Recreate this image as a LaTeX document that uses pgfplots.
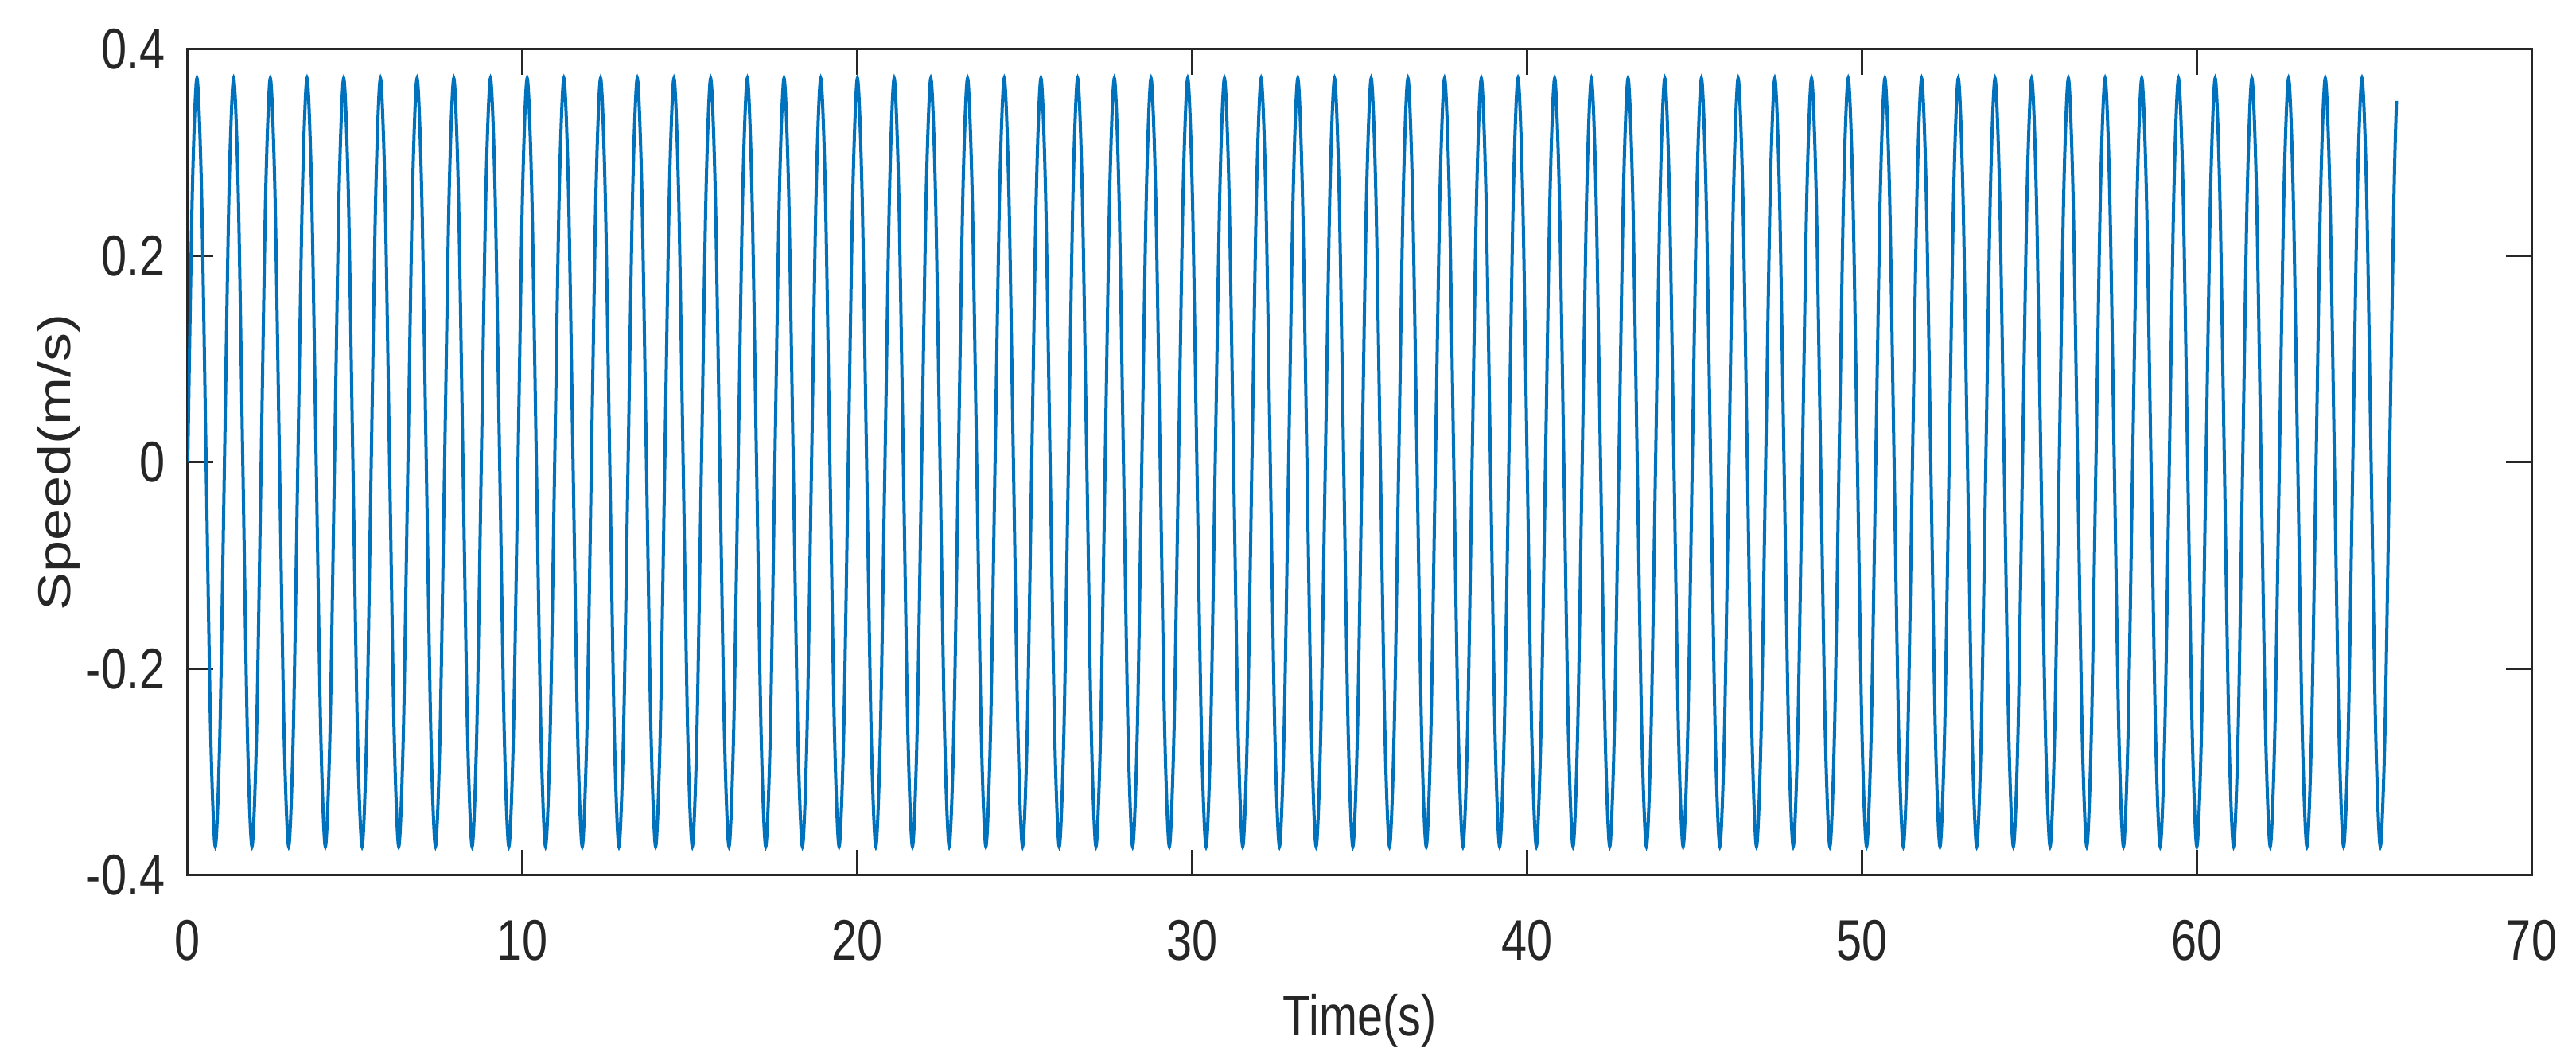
\documentclass[border=0pt]{standalone}
\usepackage{fontspec}
\setmainfont{Liberation Sans}
\usepackage{graphicx}
\usepackage{pgfplots}
\pgfplotsset{compat=1.18}
\definecolor{mblue}{HTML}{0072BD}
\definecolor{mgray}{HTML}{262626}
\newcommand\sx[1]{\scalebox{0.8}[1]{#1}}
\begin{document}
\begin{tikzpicture}
\path[use as bounding box] (-59pt,-56.75pt) rectangle (750.5pt,275pt);
\begin{axis}[
  at={(0pt,0pt)}, anchor=south west,
  scale only axis, width=736.5pt, height=259.5pt,
  xmin=0, xmax=70, ymin=-0.4, ymax=0.4,
  xtick={0,10,20,30,40,50,60,70},
  xticklabels={\sx{0},\sx{10},\sx{20},\sx{30},\sx{40},\sx{50},\sx{60},\sx{70}},
  ytick={-0.4,-0.2,0,0.2,0.4},
  yticklabels={\sx{-0.4},\sx{-0.2},\sx{0},\sx{0.2},\sx{0.4}},
  axis line style={mgray, line width=0.75pt},
  tick style={mgray, line width=0.75pt},
  major tick length=8pt,
  tick align=inside,
  ticklabel style={font=\fontsize{18}{20}\selectfont, text=mgray},
  xticklabel style={anchor=north, inner sep=0pt, yshift=-13.75pt},
  yticklabel style={anchor=east, inner sep=0pt, xshift=-7pt},
  xlabel={\sx{Time(s)}},
  ylabel={\scalebox{1}[0.8]{Speed(m/s)}},
  label style={font=\fontsize{18}{20}\selectfont, text=mgray},
  xlabel style={at={(axis description cs:0.5,-0.1946)}, anchor=base, inner sep=0pt},
  ylabel style={at={(axis description cs:-0.0502,0.5)}, anchor=base, inner sep=0pt},
]
\addplot[mblue, line width=1pt, smooth, no markers] coordinates {
(0,0)(0.137,0.263)(0.274,0.372)(0.411,0.263)(0.548,0)(0.685,-0.263)(0.822,-0.372)(0.959,-0.263)
(1.096,0)(1.233,0.263)(1.370,0.372)(1.507,0.263)(1.644,0)(1.781,-0.263)(1.918,-0.372)(2.055,-0.263)
(2.192,0)(2.329,0.263)(2.466,0.372)(2.603,0.263)(2.740,0)(2.877,-0.263)(3.014,-0.372)(3.151,-0.263)
(3.288,0)(3.425,0.263)(3.562,0.372)(3.699,0.263)(3.836,0)(3.973,-0.263)(4.110,-0.372)(4.247,-0.263)
(4.384,0)(4.521,0.263)(4.658,0.372)(4.795,0.263)(4.932,0)(5.069,-0.263)(5.206,-0.372)(5.343,-0.263)
(5.480,0)(5.617,0.263)(5.754,0.372)(5.891,0.263)(6.028,0)(6.165,-0.263)(6.302,-0.372)(6.439,-0.263)
(6.576,0)(6.713,0.263)(6.850,0.372)(6.987,0.263)(7.124,0)(7.261,-0.263)(7.398,-0.372)(7.535,-0.263)
(7.672,0)(7.809,0.263)(7.946,0.372)(8.083,0.263)(8.220,0)(8.357,-0.263)(8.494,-0.372)(8.631,-0.263)
(8.768,0)(8.905,0.263)(9.042,0.372)(9.179,0.263)(9.316,0)(9.453,-0.263)(9.590,-0.372)(9.727,-0.263)
(9.864,0)(10.001,0.263)(10.138,0.372)(10.275,0.263)(10.412,0)(10.549,-0.263)(10.686,-0.372)(10.823,-0.263)
(10.960,0)(11.097,0.263)(11.234,0.372)(11.371,0.263)(11.508,0)(11.645,-0.263)(11.782,-0.372)(11.919,-0.263)
(12.056,0)(12.193,0.263)(12.330,0.372)(12.467,0.263)(12.604,0)(12.741,-0.263)(12.878,-0.372)(13.015,-0.263)
(13.152,0)(13.289,0.263)(13.426,0.372)(13.563,0.263)(13.700,0)(13.837,-0.263)(13.974,-0.372)(14.111,-0.263)
(14.248,0)(14.385,0.263)(14.522,0.372)(14.659,0.263)(14.796,0)(14.933,-0.263)(15.070,-0.372)(15.207,-0.263)
(15.344,0)(15.481,0.263)(15.618,0.372)(15.755,0.263)(15.892,0)(16.029,-0.263)(16.166,-0.372)(16.303,-0.263)
(16.440,0)(16.577,0.263)(16.714,0.372)(16.851,0.263)(16.988,0)(17.125,-0.263)(17.262,-0.372)(17.399,-0.263)
(17.536,0)(17.673,0.263)(17.810,0.372)(17.947,0.263)(18.084,0)(18.221,-0.263)(18.358,-0.372)(18.495,-0.263)
(18.632,0)(18.769,0.263)(18.906,0.372)(19.043,0.263)(19.180,0)(19.317,-0.263)(19.454,-0.372)(19.591,-0.263)
(19.728,0)(19.865,0.263)(20.002,0.372)(20.139,0.263)(20.276,0)(20.413,-0.263)(20.550,-0.372)(20.687,-0.263)
(20.824,0)(20.961,0.263)(21.098,0.372)(21.235,0.263)(21.372,0)(21.509,-0.263)(21.646,-0.372)(21.783,-0.263)
(21.920,0)(22.057,0.263)(22.194,0.372)(22.331,0.263)(22.468,0)(22.605,-0.263)(22.742,-0.372)(22.879,-0.263)
(23.016,0)(23.153,0.263)(23.290,0.372)(23.427,0.263)(23.564,0)(23.701,-0.263)(23.838,-0.372)(23.975,-0.263)
(24.112,0)(24.249,0.263)(24.386,0.372)(24.523,0.263)(24.660,0)(24.797,-0.263)(24.934,-0.372)(25.071,-0.263)
(25.208,0)(25.345,0.263)(25.482,0.372)(25.619,0.263)(25.756,0)(25.893,-0.263)(26.030,-0.372)(26.167,-0.263)
(26.304,0)(26.441,0.263)(26.578,0.372)(26.715,0.263)(26.852,0)(26.989,-0.263)(27.126,-0.372)(27.263,-0.263)
(27.400,0)(27.537,0.263)(27.674,0.372)(27.811,0.263)(27.948,0)(28.085,-0.263)(28.222,-0.372)(28.359,-0.263)
(28.496,0)(28.633,0.263)(28.770,0.372)(28.907,0.263)(29.044,0)(29.181,-0.263)(29.318,-0.372)(29.455,-0.263)
(29.592,0)(29.729,0.263)(29.866,0.372)(30.003,0.263)(30.140,0)(30.277,-0.263)(30.414,-0.372)(30.551,-0.263)
(30.688,0)(30.825,0.263)(30.962,0.372)(31.099,0.263)(31.236,0)(31.373,-0.263)(31.510,-0.372)(31.647,-0.263)
(31.784,0)(31.921,0.263)(32.058,0.372)(32.195,0.263)(32.332,0)(32.469,-0.263)(32.606,-0.372)(32.743,-0.263)
(32.880,0)(33.017,0.263)(33.154,0.372)(33.291,0.263)(33.428,0)(33.565,-0.263)(33.702,-0.372)(33.839,-0.263)
(33.976,0)(34.113,0.263)(34.250,0.372)(34.387,0.263)(34.524,0)(34.661,-0.263)(34.798,-0.372)(34.935,-0.263)
(35.072,0)(35.209,0.263)(35.346,0.372)(35.483,0.263)(35.620,0)(35.757,-0.263)(35.894,-0.372)(36.031,-0.263)
(36.168,0)(36.305,0.263)(36.442,0.372)(36.579,0.263)(36.716,0)(36.853,-0.263)(36.990,-0.372)(37.127,-0.263)
(37.264,0)(37.401,0.263)(37.538,0.372)(37.675,0.263)(37.812,0)(37.949,-0.263)(38.086,-0.372)(38.223,-0.263)
(38.360,0)(38.497,0.263)(38.634,0.372)(38.771,0.263)(38.908,0)(39.045,-0.263)(39.182,-0.372)(39.319,-0.263)
(39.456,0)(39.593,0.263)(39.730,0.372)(39.867,0.263)(40.004,0)(40.141,-0.263)(40.278,-0.372)(40.415,-0.263)
(40.552,0)(40.689,0.263)(40.826,0.372)(40.963,0.263)(41.100,0)(41.237,-0.263)(41.374,-0.372)(41.511,-0.263)
(41.648,0)(41.785,0.263)(41.922,0.372)(42.059,0.263)(42.196,0)(42.333,-0.263)(42.470,-0.372)(42.607,-0.263)
(42.744,0)(42.881,0.263)(43.018,0.372)(43.155,0.263)(43.292,0)(43.429,-0.263)(43.566,-0.372)(43.703,-0.263)
(43.840,0)(43.977,0.263)(44.114,0.372)(44.251,0.263)(44.388,0)(44.525,-0.263)(44.662,-0.372)(44.799,-0.263)
(44.936,0)(45.073,0.263)(45.210,0.372)(45.347,0.263)(45.484,0)(45.621,-0.263)(45.758,-0.372)(45.895,-0.263)
(46.032,0)(46.169,0.263)(46.306,0.372)(46.443,0.263)(46.580,0)(46.717,-0.263)(46.854,-0.372)(46.991,-0.263)
(47.128,0)(47.265,0.263)(47.402,0.372)(47.539,0.263)(47.676,0)(47.813,-0.263)(47.950,-0.372)(48.087,-0.263)
(48.224,0)(48.361,0.263)(48.498,0.372)(48.635,0.263)(48.772,0)(48.909,-0.263)(49.046,-0.372)(49.183,-0.263)
(49.320,0)(49.457,0.263)(49.594,0.372)(49.731,0.263)(49.868,0)(50.005,-0.263)(50.142,-0.372)(50.279,-0.263)
(50.416,0)(50.553,0.263)(50.690,0.372)(50.827,0.263)(50.964,0)(51.101,-0.263)(51.238,-0.372)(51.375,-0.263)
(51.512,0)(51.649,0.263)(51.786,0.372)(51.923,0.263)(52.060,0)(52.197,-0.263)(52.334,-0.372)(52.471,-0.263)
(52.608,0)(52.745,0.263)(52.882,0.372)(53.019,0.263)(53.156,0)(53.293,-0.263)(53.430,-0.372)(53.567,-0.263)
(53.704,0)(53.841,0.263)(53.978,0.372)(54.115,0.263)(54.252,0)(54.389,-0.263)(54.526,-0.372)(54.663,-0.263)
(54.800,0)(54.937,0.263)(55.074,0.372)(55.211,0.263)(55.348,0)(55.485,-0.263)(55.622,-0.372)(55.759,-0.263)
(55.896,0)(56.033,0.263)(56.170,0.372)(56.307,0.263)(56.444,0)(56.581,-0.263)(56.718,-0.372)(56.855,-0.263)
(56.992,0)(57.129,0.263)(57.266,0.372)(57.403,0.263)(57.540,0)(57.677,-0.263)(57.814,-0.372)(57.951,-0.263)
(58.088,0)(58.225,0.263)(58.362,0.372)(58.499,0.263)(58.636,0)(58.773,-0.263)(58.910,-0.372)(59.047,-0.263)
(59.184,0)(59.321,0.263)(59.458,0.372)(59.595,0.263)(59.732,0)(59.869,-0.263)(60.006,-0.372)(60.143,-0.263)
(60.280,0)(60.417,0.263)(60.554,0.372)(60.691,0.263)(60.828,0)(60.965,-0.263)(61.102,-0.372)(61.239,-0.263)
(61.376,0)(61.513,0.263)(61.650,0.372)(61.787,0.263)(61.924,0)(62.061,-0.263)(62.198,-0.372)(62.335,-0.263)
(62.472,0)(62.609,0.263)(62.746,0.372)(62.883,0.263)(63.020,0)(63.157,-0.263)(63.294,-0.372)(63.431,-0.263)
(63.568,0)(63.705,0.263)(63.842,0.372)(63.979,0.263)(64.116,0)(64.253,-0.263)(64.390,-0.372)(64.527,-0.263)
(64.664,0)(64.801,0.263)(64.938,0.372)(65.075,0.263)(65.212,0)(65.349,-0.263)(65.486,-0.372)(65.623,-0.263)
(65.760,0)(65.897,0.263)(65.970,0.350)
};
\end{axis}
\end{tikzpicture}
\end{document}
